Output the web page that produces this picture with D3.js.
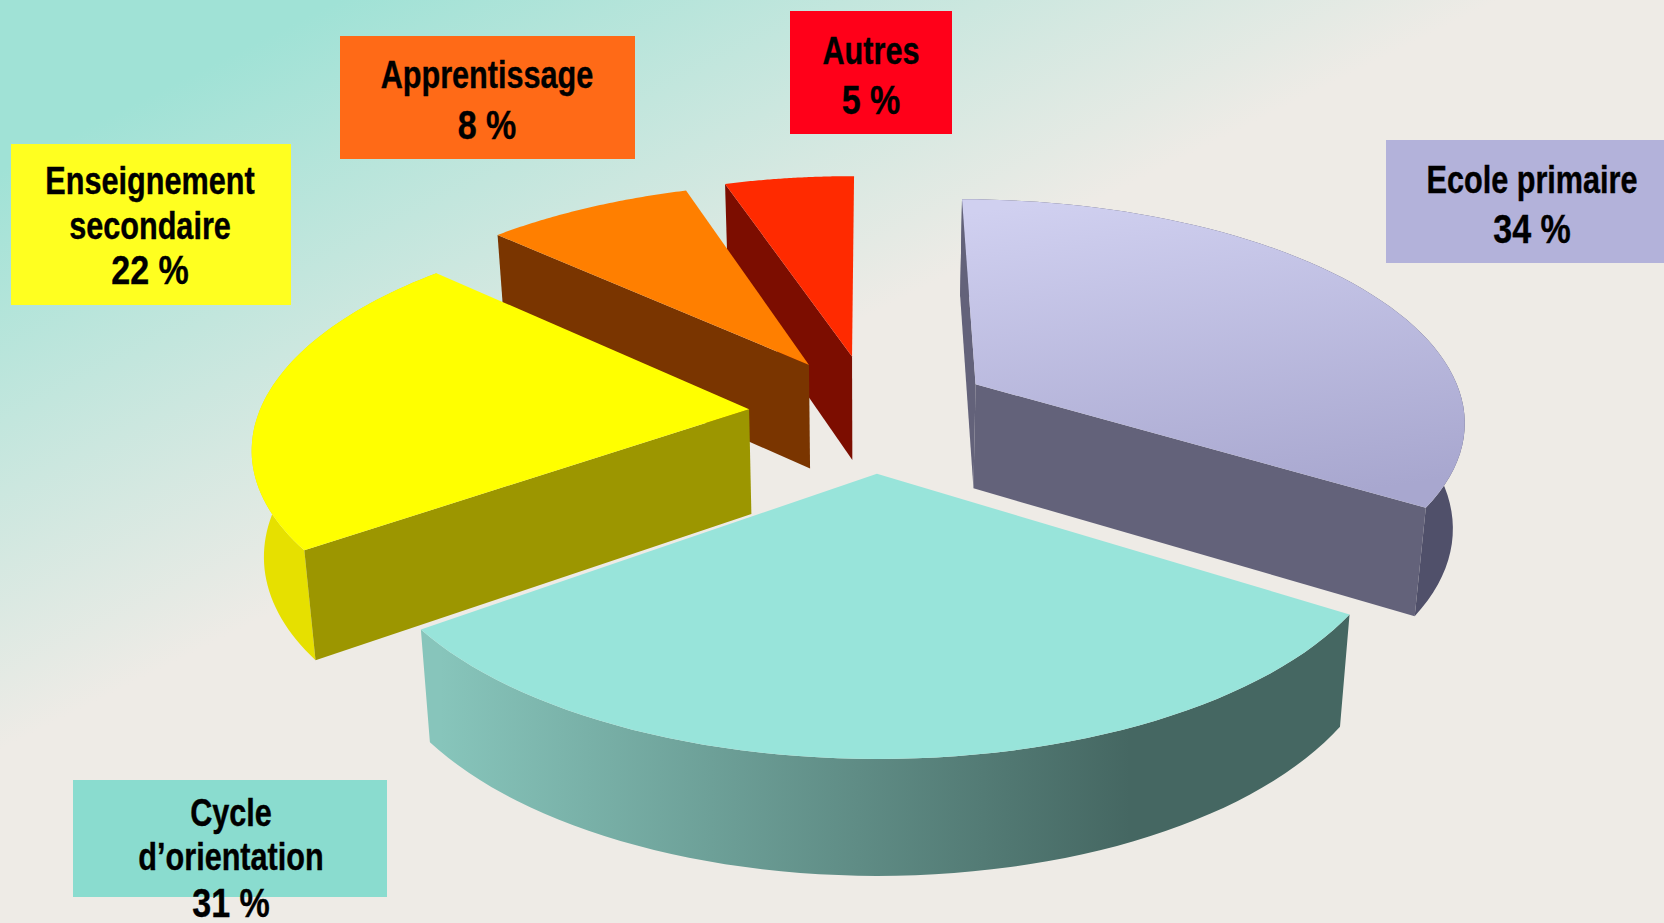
<!DOCTYPE html>
<html><head><meta charset="utf-8">
<script src="https://cdn.jsdelivr.net/npm/d3@7"></script>
<style>html,body{margin:0;padding:0;overflow:hidden;background:#eeebe6}svg{display:block}</style>
</head><body><svg id="c" width="1664" height="923"></svg>
<script>
const categories = ["Ecole primaire","Cycle d’orientation","Enseignement secondaire","Apprentissage","Autres"];
const values = [34,31,22,8,5];
const labelLines = [["Ecole primaire","34 %"],["Cycle","d’orientation","31 %"],["Enseignement","secondaire","22 %"],["Apprentissage","8 %"],["Autres","5 %"]];
const topColors = ["url(#gTop)","#98e4da","#ffff00","#ff7f00","#ff2a00"];
const faceColors = ["#63627a","#456762","#9c9600","#7a3500","#7c0d00"];
const wallColors = ["#50506a","url(#gWall)","#e6e000",null,null];
const boxColors = ["#b3b2da","#8adccf","#ffff20","#ff6a17","#ff0019"];
const explode = [0.25,0.29,0.235,0.21,0.215];
const nudgeX = [2,4,-4,-5,0];
const nudgeY = [5,2,7,-2,-3];
const showStart = [true,false,true,true,true];
const showEnd = [true,false,false,false,false];
const boxes = [[1386,140,278,123],[73,780,314,117],[11,144,280,161],[340,36,295,123],[790,11,162,123]];
const labelCenters = [1532,231,150,487,871];
const baselines = [[193,244],[826,870,918],[194,239,285],[88,140],[64,115]];

const W=1664,H=923, cx=868, cy=405, A=490, B=220, K=0.15, D=105, SH=0.98;
const svg=d3.select("#c"), defs=svg.append("defs");
function lg(id,x1,y1,x2,y2,stops){const g=defs.append("linearGradient").attr("id",id).attr("gradientUnits","userSpaceOnUse")
 .attr("x1",x1).attr("y1",y1).attr("x2",x2).attr("y2",y2);
 stops.forEach(s=>g.append("stop").attr("offset",s[0]).attr("stop-color",s[1]));}
lg("gBg",68,136,300,600,[[0,"#a0e2d6"],[1,"#eeebe6"]]);
lg("gTop",1120,190,1170,520,[[0,"#d0d0f0"],[1,"#a8a7cf"]]);
lg("gWall",440,0,1130,0,[[0,"#87c5bb"],[1,"#456762"]]);
svg.append("rect").attr("width",W).attr("height",H).attr("fill","url(#gBg)");

const pie=d3.pie().sort(null).startAngle(0).endAngle(2*Math.PI);
const arcs=pie(values);
function project(u,v,bottom,i){
  const w=1-K*v; let x=cx+A*u/w, y=cy+B*v/w;
  if(bottom){ x=cx+(x-cx)*SH; y+=D*Math.sqrt(1/w);}
  return [x+nudgeX[i]*1.06,y+nudgeY[i]*1.06];
}
const line=d3.line();
function geom(i){
  const a=arcs[i], mid=(a.startAngle+a.endAngle)/2, e=explode[i];
  const ox=e*Math.sin(mid), oy=-e*Math.cos(mid);
  const rim=(t,b)=>project(ox+Math.sin(t),oy-Math.cos(t),b,i);
  const apex=b=>project(ox,oy,b,i);
  const ts=d3.range(0,61).map(k=>a.startAngle+(a.endAngle-a.startAngle)*k/60);
  return {a,rim,apex,ts};
}
const order=[0,4,3,2,1];
order.forEach(i=>{
  const g=geom(i), a=g.a, sl=svg.append("g").attr("class","slice").attr("data-category",categories[i]);
  const face=t=>line([g.apex(false),g.rim(t,false),g.rim(t,true),g.apex(true)])+"Z";
  if(wallColors[i]){
    const wallPts=g.ts.map(t=>g.rim(t,false)).concat(g.ts.slice().reverse().map(t=>g.rim(t,true)));
    sl.append("path").attr("d",line(wallPts)+"Z").attr("fill",wallColors[i]);
  }
  if(showStart[i]) sl.append("path").attr("d",face(a.startAngle)).attr("fill",faceColors[i]);
  if(showEnd[i]) sl.append("path").attr("d",face(a.endAngle)).attr("fill",faceColors[i]);
  const topPts=[g.apex(false)].concat(g.ts.map(t=>g.rim(t,false)));
  sl.append("path").attr("d",line(topPts)+"Z").attr("fill",topColors[i]);
});
categories.forEach((c,i)=>{
  const b=boxes[i];
  svg.append("rect").attr("x",b[0]).attr("y",b[1]).attr("width",b[2]).attr("height",b[3]).attr("fill",boxColors[i]);
});
categories.forEach((c,i)=>{
  const last=labelLines[i].length-1;
  labelLines[i].forEach((t,j)=>{
    const pct=j===last;
    svg.append("text").attr("transform",`translate(${labelCenters[i]},${baselines[i][j]-(pct?1:0)}) scale(${pct?0.83:0.806},1)`).attr("text-anchor","middle")
      .attr("font-family","'Liberation Sans',Arial,sans-serif").attr("font-weight","bold")
      .attr("font-size",pct?41:38).attr("fill","#000").attr("stroke","#000").attr("stroke-width",0.4).text(t);
  });
});
</script></body></html>
